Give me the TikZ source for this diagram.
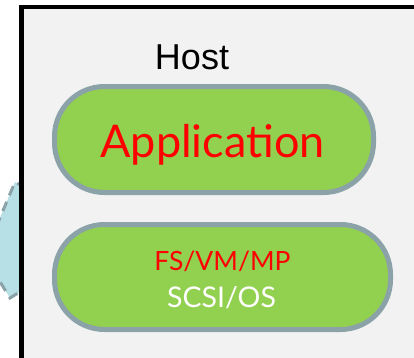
\documentclass[tikz,border=0pt]{standalone}
\usepackage{fontspec}
\setmainfont{Liberation Sans}
\newfontfamily\pillfont{Lato}
\definecolor{hostbg}{RGB}{242,242,242}
\definecolor{pillgreen}{RGB}{146,208,80}
\definecolor{pillborder}{RGB}{139,163,168}
\definecolor{cloudblue}{RGB}{183,224,230}
\begin{document}
\begin{tikzpicture}[x=1pt,y=-1pt,
  hostbox/.style={draw=black, line width=4.5pt, fill=hostbg, inner sep=0pt},
  pill/.style={draw=pillborder, line width=5pt, fill=pillgreen, rounded corners=50pt, inner sep=0pt},
  hostlabel/.style={font=\fontsize{36}{40}\selectfont, anchor=base, inner sep=0pt},
  biglabel/.style={font=\pillfont\fontsize{45}{50}\selectfont, text=red, anchor=base, inner sep=0pt},
  remote/.style={fill=cloudblue, draw=pillborder, line width=3pt, dash pattern=on 10pt off 7pt}
]
\useasboundingbox (0,0) rectangle (414,357);
% neighbouring network cloud, mostly hidden behind the host
\path[remote] (26,188) -- (15,182) -- (-6,232) -- (-6,272) -- (10,298) -- (26,288);
% host box, its lower edge just at the bottom of the page
\node[hostbox, minimum width=428.5pt, minimum height=361pt] (host) at (235.75,187.5) {};
\node[hostlabel] (hostname) at (192,69.5) {Host};
% application layer
\node[pill, minimum width=319pt, minimum height=106pt] (app) at (214,139.5) {};
\node[biglabel] (apptext) at (212.5,157) {Application};
% storage stack layer
\node[pill, minimum width=336pt, minimum height=105pt] (stack) at (222.5,277) {};
\node[font=\pillfont\fontsize{26.5}{30}\selectfont, text=red, anchor=base, inner sep=0pt] (fstext) at (222.5,270) {FS/VM/MP};
\node[font=\pillfont\fontsize{28.5}{32}\selectfont, text=white, anchor=base, inner sep=0pt] (scsitext) at (221.5,307) {SCSI/OS};
\end{tikzpicture}
\end{document}
